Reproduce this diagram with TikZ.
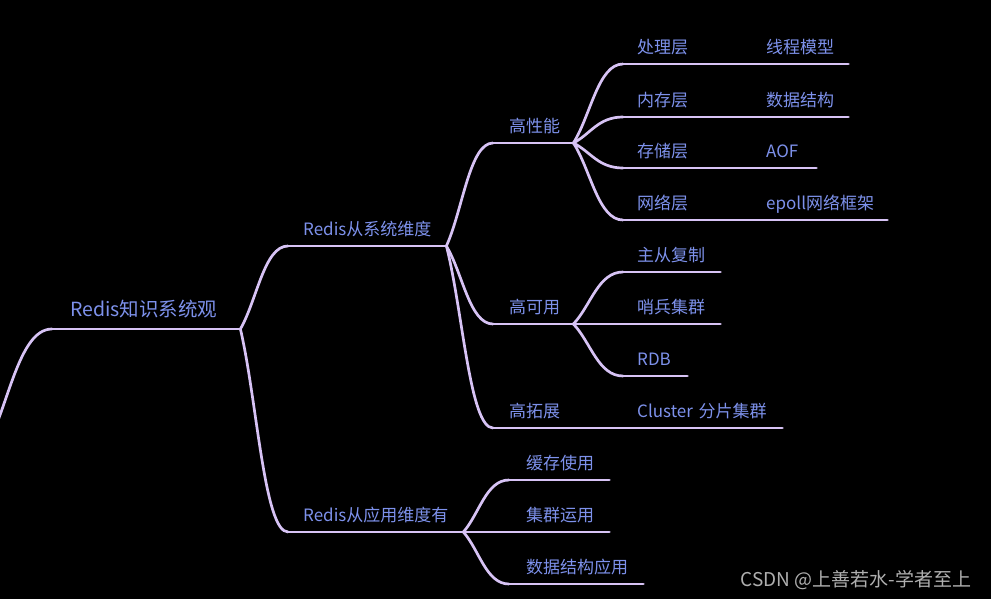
\documentclass[tikz,border=0pt]{standalone}
\usepackage{fontspec}
\setmainfont{Noto Sans CJK SC}
\usetikzlibrary{calc}
\definecolor{branchc}{RGB}{215,195,245}
\definecolor{labelc}{RGB}{125,145,235}
\definecolor{markc}{RGB}{175,175,175}
\begin{document}
\begin{tikzpicture}[x=1pt, y=-1pt,
    topic/.style={anchor=south west, align=left, inner xsep=0pt, inner ysep=0pt,
        text height=14pt, text depth=10.5pt, text=labelc, font=\fontsize{17}{17}\selectfont},
    line/.style={draw=branchc, line width=2.7pt, line cap=round},
    branch/.style={line, to path={.. controls ($(\tikztostart)!0.35!(\tikztotarget)$)
        and ($(\tikztostart |- \tikztotarget)!0.5!(\tikztotarget)$) .. (\tikztotarget)}}]

% background
\fill[black] (0,0) rectangle (991,599);
\useasboundingbox (0,0) rectangle (991,599);

% root
\coordinate (origin) at (-15,450);
\node[topic, text depth=12.6pt, font=\fontsize{19.5}{19.5}\selectfont, text width=188pt] (root) at (52,329) {\hspace*{18pt}Redis知识系统观};

% two views
\node[topic, text width=158pt] (sys) at (288,246) {\hspace*{15pt}Redis从系统维度};
\node[topic, text width=175pt] (app) at (288,532) {\hspace*{15pt}Redis从应用维度有};

% system view
\node[topic, text width=80pt] (hp) at (493,143) {\hspace*{16pt}高性能};
\node[topic, text width=80pt] (hk) at (493,324) {\hspace*{16pt}高可用};
\node[topic, text width=80pt] (ht) at (493,428) {\hspace*{16pt}高拓展};

% performance layers
\node[topic, text width=79pt] (clc) at (623,64) {\hspace*{14pt}处理层};
\node[topic, text width=79pt] (ncc) at (623,117) {\hspace*{14pt}内存层};
\node[topic, text width=79pt] (ccc) at (623,168) {\hspace*{14pt}存储层};
\node[topic, text width=79pt] (wlc) at (623,220) {\hspace*{14pt}网络层};
\node[topic, text width=146pt] (xcmx) at (702,64) {\hspace*{64pt}线程模型};
\node[topic, text width=146pt] (sjjg) at (702,117) {\hspace*{64pt}数据结构};
\node[topic, text width=114pt] (aof) at (702,168) {\hspace*{64pt}AOF};
\node[topic, text width=185pt] (epoll) at (702,220) {\hspace*{64pt}epoll网络框架};

% availability / scaling
\node[topic, text width=97pt] (zcfz) at (623,272) {\hspace*{14pt}主从复制};
\node[topic, text width=97pt] (sbjq) at (623,324) {\hspace*{14pt}哨兵集群};
\node[topic, text width=64pt] (rdb) at (623,376) {\hspace*{14pt}RDB};
\node[topic, text width=159pt] (cluster) at (623,428) {\hspace*{14pt}Cluster 分片集群};

% application view
\node[topic, text width=100pt] (hcsy) at (509,480) {\hspace*{17pt}缓存使用};
\node[topic, text width=100pt] (jqyy) at (509,532) {\hspace*{17pt}集群运用};
\node[topic, text width=134pt] (sjyy) at (509,584) {\hspace*{17pt}数据结构应用};

% underlines
\foreach \n in {root,sys,app,hp,hk,ht,clc,ncc,ccc,wlc,xcmx,sjjg,aof,epoll,zcfz,sbjq,rdb,cluster,hcsy,jqyy,sjyy}
  \draw[line] (\n.south west) -- (\n.south east);

% branches
\draw[branch] (origin) to (root.south west);
\draw[branch] (root.south east) to (sys.south west);
\draw[branch] (root.south east) to (app.south west);
\draw[branch] (sys.south east) to (hp.south west);
\draw[branch] (sys.south east) to (hk.south west);
\draw[branch] (sys.south east) to (ht.south west);
\draw[branch] (hp.south east) to (clc.south west);
\draw[branch] (hp.south east) to (ncc.south west);
\draw[branch] (hp.south east) to (ccc.south west);
\draw[branch] (hp.south east) to (wlc.south west);
\draw[branch] (hk.south east) to (zcfz.south west);
\draw[branch] (hk.south east) to (sbjq.south west);
\draw[branch] (hk.south east) to (rdb.south west);
\draw[branch] (ht.south east) to (cluster.south west);
\draw[branch] (app.south east) to (hcsy.south west);
\draw[branch] (app.south east) to (jqyy.south west);
\draw[branch] (app.south east) to (sjyy.south west);

% watermark
\node[text=markc, font=\fontsize{19}{19}\selectfont, inner sep=0pt] (mark) at (856,580) {CSDN @上善若水-学者至上};
\end{tikzpicture}
\end{document}
